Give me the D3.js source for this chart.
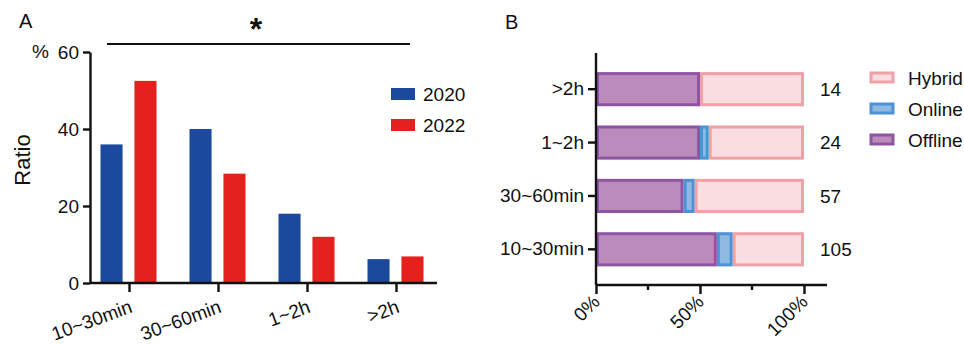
<!DOCTYPE html>
<html>
<head>
<meta charset="utf-8">
<script src="https://cdn.jsdelivr.net/npm/d3@7"></script>
<style>
  body { margin: 0; background: #fff; }
  text { font-family: "Liberation Sans", Arial, sans-serif; fill: #111; }
</style>
</head>
<body>
<script>
// panel A data
var periods = ["10~30min", "30~60min", "1~2h", ">2h"];
var years = ["2020", "2022"];
var ratio2020 = [36, 40, 18, 6.2];
var ratio2022 = [52.5, 28.4, 12, 6.9];
var yTicksA = [0, 20, 40, 60];

// panel B data (percent of respondents)
var periodsB = [">2h", "1~2h", "30~60min", "10~30min"];
var modes = ["Offline", "Online", "Hybrid"];
var offline = [50, 50, 42.1, 58.1];
var online = [0, 4.2, 5.3, 7.6];
var hybrid = [50, 45.8, 52.6, 34.3];
var counts = [14, 24, 57, 105];
var xTicksB = [0, 50, 100];

var W = 964, H = 344;
var FS = 19;
var svg = d3.select("body").append("svg").attr("width", W).attr("height", H);

// ---------- Panel A ----------
var xA = d3.scaleBand().domain(periods).range([85, 441]);
var yA = d3.scaleLinear().domain([0, 60]).range([283, 52]);
var sub = d3.scaleBand().domain(years).range([-28, 28]).paddingInner(0.35).paddingOuter(0);
var colA = {"2020": "#1b4a9c", "2022": "#e4211d"};

var gA = svg.append("g");
var rowsA = periods.map(function(p, i) {
  return {p: p, vals: [{y: "2020", v: ratio2020[i]}, {y: "2022", v: ratio2022[i]}]};
});
gA.selectAll(".grp").data(rowsA).enter().append("g")
  .attr("transform", function(d) { return "translate(" + (xA(d.p) + xA.bandwidth() / 2 + 1) + ",0)"; })
  .selectAll("rect").data(function(d) { return d.vals; }).enter().append("rect")
  .attr("x", function(d) { return sub(d.y) - 2; })
  .attr("width", sub.bandwidth())
  .attr("y", function(d) { return yA(d.v); })
  .attr("height", function(d) { return yA(0) - yA(d.v); })
  .attr("fill", function(d) { return colA[d.y]; });

var axA = gA.append("g").attr("transform", "translate(90,0)")
  .call(d3.axisLeft(yA).tickValues(yTicksA).tickSize(7).tickSizeOuter(0).tickPadding(4));
var axAx = gA.append("g").attr("transform", "translate(0,283)")
  .call(d3.axisBottom(xA).tickSize(9).tickSizeOuter(0).tickFormat(""));
axAx.select(".domain").attr("d", "M90,0H437");
[axA, axAx].forEach(function(a) {
  a.selectAll("path,line").attr("stroke", "#111").attr("stroke-width", 2.4);
});
axA.selectAll("text").attr("font-size", FS).style("font-family", "Liberation Sans, Arial, sans-serif").attr("fill", "#111");

gA.selectAll(".xlab").data(periods).enter().append("text")
  .attr("transform", function(d) { return "translate(" + (xA(d) + xA.bandwidth() / 2 + 4) + ",312) rotate(-20)"; })
  .attr("text-anchor", "end").attr("font-size", FS).text(function(d) { return d; });

gA.append("text").attr("x", 32).attr("y", 58).attr("font-size", FS).text("%");
gA.append("text").attr("transform", "translate(30,160) rotate(-90)")
  .attr("text-anchor", "middle").attr("font-size", 22).text("Ratio");
gA.append("text").attr("x", 19).attr("y", 28).attr("font-size", 20).text("A");

// significance bar
gA.append("line").attr("x1", 107).attr("x2", 410).attr("y1", 44).attr("y2", 44)
  .attr("stroke", "#111").attr("stroke-width", 2);
gA.append("text").attr("x", 256).attr("y", 40).attr("text-anchor", "middle")
  .attr("font-size", 32).attr("font-weight", "bold").text("*");

// legend A
var legA = gA.selectAll(".legA").data(years).enter().append("g")
  .attr("transform", function(d, i) { return "translate(391," + (88 + i * 31) + ")"; });
legA.append("rect").attr("width", 24).attr("height", 12).attr("fill", function(d) { return colA[d]; });
legA.append("text").attr("x", 32).attr("y", 13).attr("font-size", FS).text(function(d) { return d; });

// ---------- Panel B ----------
var xB = d3.scaleLinear().domain([0, 100]).range([596, 804]);
var yB = d3.scaleBand().domain(periodsB).range([62.5, 276]).paddingInner(0.36).paddingOuter(0.18);
var fillB = {Offline: "#bb8bbb", Online: "#90b9e2", Hybrid: "#f9dde0"};
var strokeB = {Offline: "#8d55a2", Online: "#4d91d6", Hybrid: "#f1a0a6"};

var rowsB = periodsB.map(function(p, i) {
  return {p: p, Offline: offline[i], Online: online[i], Hybrid: hybrid[i]};
});
var stackB = d3.stack().keys(modes)(rowsB);
var gB = svg.append("g");
// hybrid first, offline last so its border sits on top
gB.selectAll(".ser").data(stackB.slice().reverse()).enter().append("g")
  .each(function(s) {
    d3.select(this).selectAll("rect").data(s.filter(function(d) { return d[1] - d[0] > 0; })).enter().append("rect")
      .attr("x", function(d) { return xB(d[0]) + 1.5; })
      .attr("width", function(d) { return Math.max(0, xB(d[1]) - xB(d[0]) - 3); })
      .attr("y", function(d) { return yB(d.data.p) + 1.5; })
      .attr("height", yB.bandwidth() - 3)
      .attr("fill", fillB[s.key]).attr("stroke", strokeB[s.key]).attr("stroke-width", 3);
  });

var axBy = gB.append("g").attr("transform", "translate(596,0)")
  .call(d3.axisLeft(yB).tickSize(8).tickSizeOuter(0).tickPadding(4));
axBy.select(".domain").attr("d", "M0,53V285");
var axBx = gB.append("g").attr("transform", "translate(0,285)")
  .call(d3.axisBottom(xB).tickValues(xTicksB).tickSize(9).tickSizeOuter(0).tickFormat(""));
axBx.select(".domain").attr("d", "M596,0H827");
var minor = gB.append("g").attr("transform", "translate(0,285)");
minor.selectAll("line").data([25, 75]).enter().append("line")
  .attr("x1", function(d) { return xB(d); }).attr("x2", function(d) { return xB(d); })
  .attr("y1", 0).attr("y2", 5);
[axBy, axBx, minor].forEach(function(a) {
  a.selectAll("path,line").attr("stroke", "#111").attr("stroke-width", 2.4);
});
axBy.selectAll("text").attr("font-size", FS).style("font-family", "Liberation Sans, Arial, sans-serif").attr("fill", "#111");

gB.selectAll(".xlabB").data(xTicksB).enter().append("text")
  .attr("transform", function(d) { return "translate(" + (xB(d) + 5) + ",303) rotate(-45)"; })
  .attr("text-anchor", "end").attr("font-size", FS).text(function(d) { return d + "%"; });

gB.selectAll(".cnt").data(rowsB).enter().append("text")
  .attr("x", 820).attr("y", function(d) { return yB(d.p) + yB.bandwidth() / 2; })
  .attr("dy", "0.35em").attr("font-size", FS)
  .text(function(d, i) { return counts[i]; });

gB.append("text").attr("x", 505).attr("y", 29).attr("font-size", 20).text("B");

var legB = gB.selectAll(".legB").data(modes.slice().reverse()).enter().append("g")
  .attr("transform", function(d, i) { return "translate(871," + (73 + i * 31) + ")"; });
legB.append("rect").attr("width", 22).attr("height", 9)
  .attr("fill", function(d) { return fillB[d]; })
  .attr("stroke", function(d) { return strokeB[d]; }).attr("stroke-width", 3);
legB.append("text").attr("x", 37).attr("y", 12).attr("font-size", FS).text(function(d) { return d; });
</script>
</body>
</html>
